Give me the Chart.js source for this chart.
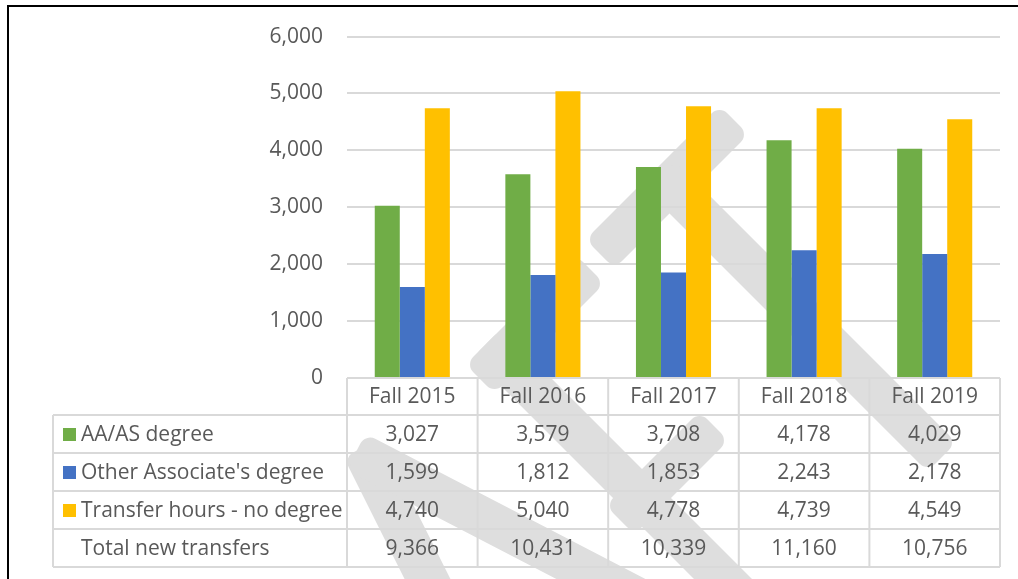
<!DOCTYPE html>
<html>
<head>
<meta charset="utf-8">
<script src="https://cdn.jsdelivr.net/npm/chart.js@4/dist/chart.umd.min.js"></script>
<style>
    html, body { margin: 0; padding: 0; background: #FFFFFF; }
    #wrap { width: 1018px; height: 579px; position: relative; }
</style>
</head>
<body>
<div id="wrap"><canvas id="chartTransfers" width="1018" height="579"></canvas></div>
<script>
// Nouveaux transferts par type - automne 2015 a 2019

const categories = ['Fall 2015', 'Fall 2016', 'Fall 2017', 'Fall 2018', 'Fall 2019'];
const seriesNames = ['AA/AS degree', "Other Associate's degree", 'Transfer hours - no degree'];
const aaDegree = [3027, 3579, 3708, 4178, 4029];
const otherAssociate = [1599, 1812, 1853, 2243, 2178];
const transferNoDegree = [4740, 5040, 4778, 4739, 4549];
const totalLabel = 'Total new transfers';
const totalTransfers = [9366, 10431, 10339, 11160, 10756];
const yTickValues = [0, 1000, 2000, 3000, 4000, 5000, 6000];

const COLORS = ['#70AD47', '#4472C4', '#FFC000'];
const TEXT = '#595959';
const LINE = '#D9D9D9';
const FONT = '"Open Sans", sans-serif';
const FONT_SIZE = 21;

function fmt(v) {
    return v.toLocaleString('en-US');
}

// filigrane gris en arriere-plan (lettres "A F T" en diagonale)
function strokeBar(ctx, x1, y1, x2, y2, w) {
    const a = Math.atan2(y2 - y1, x2 - x1);
    const len = Math.hypot(x2 - x1, y2 - y1);
    ctx.save();
    ctx.translate(x1, y1);
    ctx.rotate(a);
    ctx.beginPath();
    ctx.roundRect(0, -w / 2, len, w, 11);
    ctx.fill();
    ctx.restore();
}

const watermark = {
    id: 'watermark',
    beforeDraw(chart) {
        const ctx = chart.ctx;
        ctx.save();
        ctx.fillStyle = '#FFFFFF';
        ctx.fillRect(0, 0, chart.width, chart.height);
        ctx.fillStyle = '#DEDEDE';
        const w = 41;
        // A
        strokeBar(ctx, 362, 448, 458, 640, w);
        strokeBar(ctx, 356, 452, 680, 620, w);
        // F
        strokeBar(ctx, 487, 343, 780, 636, w);
        strokeBar(ctx, 480, 379, 590, 269, w);
        strokeBar(ctx, 620, 520, 714, 426, w);
        // T
        strokeBar(ctx, 600, 254, 734, 120, w);
        strokeBar(ctx, 660, 175, 942, 457, w);
        ctx.restore();
    },
};

const dataTable = {
    id: 'dataTable',
    afterDraw(chart) {
        const ctx = chart.ctx;
        const area = chart.chartArea;
        const x = chart.scales.x;
        const n = categories.length;
        const colW = (area.right - area.left) / n;
        const top = area.bottom;
        const headH = 37;
        const rowH = 38;
        const labelLeft = 53;
        const rows = chart.data.datasets.map(function (ds) {
            return { label: ds.label, color: ds.backgroundColor, values: ds.data };
        });
        rows.push({ label: totalLabel, color: null, values: totalTransfers });
        const bodyTop = top + headH;
        const bottom = bodyTop + rows.length * rowH;

        ctx.save();
        ctx.strokeStyle = LINE;
        ctx.lineWidth = 2;
        ctx.beginPath();
        // entete
        ctx.moveTo(area.left, top); ctx.lineTo(area.right, top);
        for (let r = 0; r <= rows.length; r++) {
            const y = bodyTop + r * rowH;
            ctx.moveTo(labelLeft, y); ctx.lineTo(area.right, y);
        }
        ctx.moveTo(labelLeft, bodyTop); ctx.lineTo(labelLeft, bottom);
        for (let i = 0; i <= n; i++) {
            const xx = area.left + i * colW;
            ctx.moveTo(xx, top); ctx.lineTo(xx, bottom);
        }
        ctx.stroke();

        ctx.fillStyle = TEXT;
        ctx.font = FONT_SIZE + 'px ' + FONT;
        ctx.textAlign = 'center';
        ctx.textBaseline = 'middle';
        categories.forEach(function (c, i) {
            ctx.fillText(c, x.getPixelForValue(i), top + headH / 2 + 1);
        });
        rows.forEach(function (row, r) {
            const cy = bodyTop + r * rowH + rowH / 2 + 1;
            ctx.textAlign = 'center';
            ctx.fillStyle = TEXT;
            row.values.forEach(function (v, i) {
                ctx.fillText(fmt(v), x.getPixelForValue(i), cy);
            });
            if (row.color) {
                ctx.fillStyle = row.color;
                ctx.fillRect(63, cy - 7, 13, 13);
            }
            ctx.fillStyle = TEXT;
            ctx.textAlign = 'left';
            ctx.fillText(row.label, 81, cy);
        });

        // cadre noir
        ctx.fillStyle = '#000000';
        ctx.fillRect(7, 5, chart.width - 7, 2);
        ctx.fillRect(7, 5, 2, chart.height - 5);
        ctx.restore();
    },
};

new Chart(document.getElementById('chartTransfers'), {
    type: 'bar',
    data: {
        labels: categories,
        datasets: [
            { label: seriesNames[0], data: aaDegree, backgroundColor: COLORS[0] },
            { label: seriesNames[1], data: otherAssociate, backgroundColor: COLORS[1] },
            { label: seriesNames[2], data: transferNoDegree, backgroundColor: COLORS[2] },
        ],
    },
    options: {
        responsive: false,
        animation: false,
        devicePixelRatio: 1,
        layout: { padding: { left: 0, right: 18, top: 35, bottom: 201 } },
        datasets: { bar: { categoryPercentage: 0.575, barPercentage: 1.0, borderWidth: 0 } },
        plugins: { legend: { display: false }, tooltip: { enabled: false } },
        scales: {
            x: { display: false },
            y: {
                min: 0,
                max: 6000,
                afterFit: function (s) { s.width = 347; },
                afterBuildTicks: function (s) { s.ticks = yTickValues.map(function (v) { return { value: v }; }); },
                border: { display: false },
                grid: { color: LINE, lineWidth: 2, drawTicks: false },
                ticks: { padding: 24, color: TEXT, font: { family: FONT, size: FONT_SIZE }, callback: function (v) { return fmt(v); } },
            },
        },
    },
    plugins: [watermark, dataTable],
});
</script>
</body>
</html>
